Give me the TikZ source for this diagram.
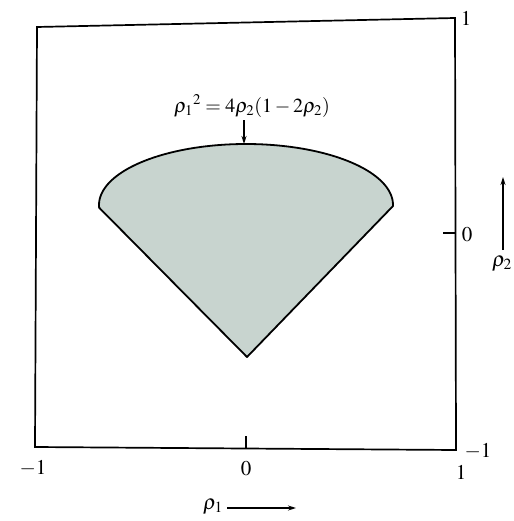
\documentclass[tikz,border=0pt]{standalone}
\usepackage{mathptmx}
\usetikzlibrary{arrows.meta}
\definecolor{shade}{RGB}{200,212,207}
\begin{document}
\begin{tikzpicture}[x=1pt,y=-1pt,
  frame/.style={line width=1.7pt, line join=miter},
  region/.style={fill=shade, draw=black, line width=1.8pt, line join=round},
  lab/.style={font=\fontsize{20}{23}\selectfont, inner sep=0pt},
  tick/.style={font=\fontsize{21}{24}\selectfont, inner sep=0pt},
  arr/.style={-{Stealth[length=8pt,width=5pt]}, line width=1.2pt}]
\useasboundingbox (0,0) rectangle (513,521);
\fill[white] (0,0) rectangle (513,521);
% frame
\coordinate (tl) at (37,27);
\coordinate (tr) at (455,18);
\coordinate (br) at (456,450);
\coordinate (bl) at (35,447);
\draw[frame] (tl) -- (tr) -- (br) -- (bl) -- cycle;
% ticks
\coordinate (tb0) at (246,448.5);
\coordinate (tb1) at (246,436);
\draw[frame] (tb0) -- (tb1);
\coordinate (tr0) at (455.5,233);
\coordinate (tr1) at (443,233);
\draw[frame] (tr0) -- (tr1);
% region
\coordinate (V) at (247,357);
\draw[region] (V) -- plot[domain=182.5:-1, samples=90, smooth]
   ({246+147*cos(\x)},{205-61*sin(\x)}) -- cycle;
% equation and arrow
\node[lab] (eq) at (252,106) {$\rho_1{}^2 = 4\rho_2(1 - 2\rho_2)$};
\coordinate (top) at (244,144);
\draw[arr] ([yshift=-3pt]eq.south -| top) -- (top);
% tick labels
\node[tick] (n1t) at (466,18) {$1$};
\node[tick] (n0r) at (467,235) {$0$};
\node[tick] (nm1r) at (478,451) {$-1$};
\node[tick] (nm1b) at (33,468) {$-1$};
\node[tick] (n0b) at (246,469) {$0$};
\node[tick] (n1b) at (461,472) {$1$};
% axis names
\node[tick] (rho2) at (502,264) {$\rho_2$};
\coordinate (r2top) at (503,177);
\draw[arr] ([yshift=6pt]rho2.north -| r2top) -- (r2top);
\node[tick] (rho1) at (213,507) {$\rho_1$};
\coordinate (r1end) at (296,508);
\draw[arr] ([xshift=4pt]rho1.east |- r1end) -- (r1end);
\end{tikzpicture}
\end{document}
